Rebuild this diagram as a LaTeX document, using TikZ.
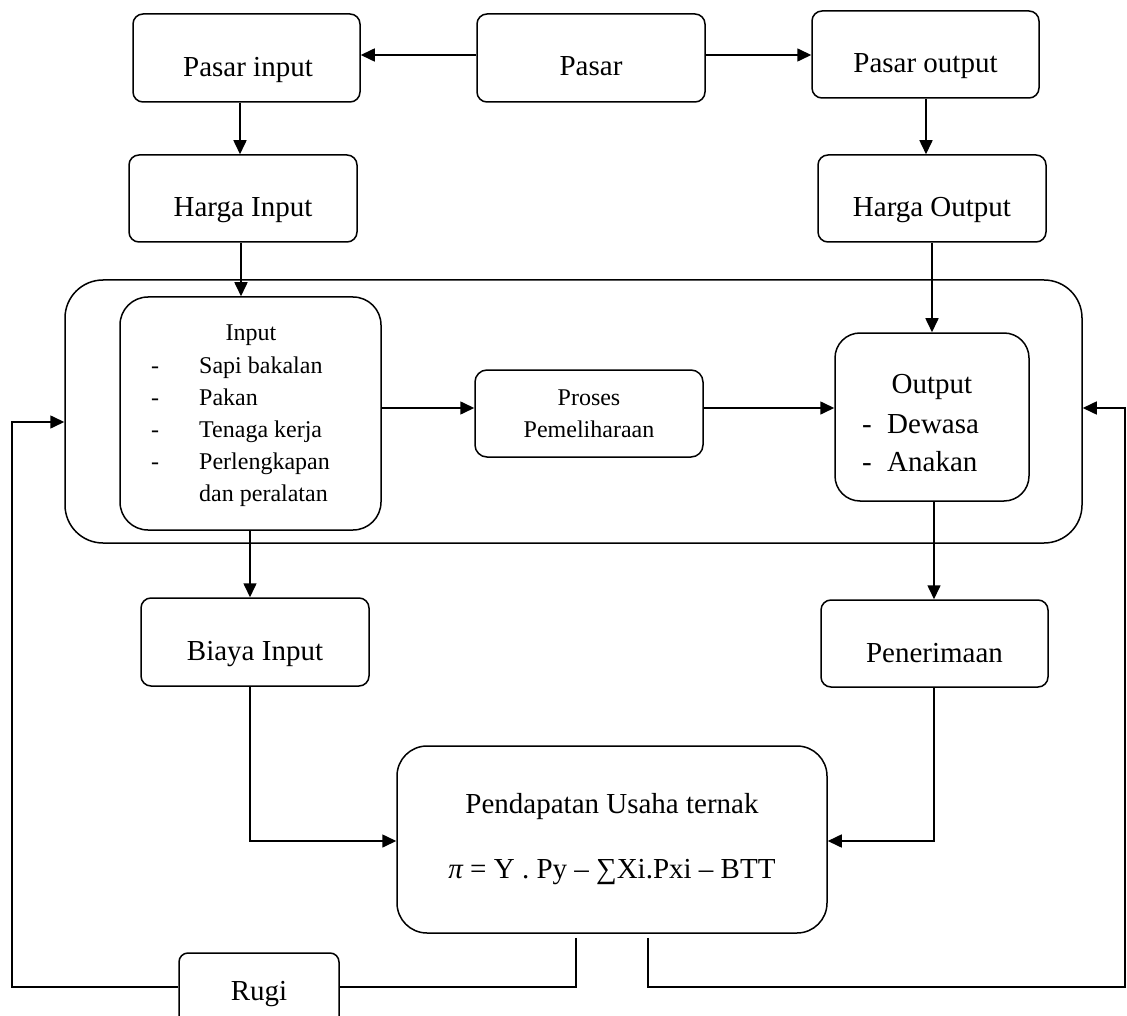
\documentclass[tikz,border=0pt]{standalone}
\usepackage{fontspec}
\setmainfont{Liberation Serif}
\usetikzlibrary{arrows.meta,calc}
\begin{document}
\begin{tikzpicture}[x=1pt,y=-1pt,
  box/.style={draw,line width=1.5pt,rounded corners=10pt,inner sep=0pt},
  conn/.style={line width=1.6pt},
  arr/.style={conn,-{Triangle[length=14pt,width=13pt]}},
  big/.style={font=\fontsize{29}{35}\selectfont,inner sep=0pt,anchor=base},
  small/.style={font=\fontsize{24}{29}\selectfont,inner sep=0pt,anchor=base},
]
\useasboundingbox (0,0) rectangle (1127,1016);
\clip (0,0) rectangle (1127,1016);

% boxes
\node[box,minimum width=227pt,minimum height=88pt] (pasarin) at (246.5,58) {};
\node[box,minimum width=228pt,minimum height=88pt] (pasar) at (591,58) {};
\node[box,minimum width=227pt,minimum height=87pt] (pasarout) at (925.5,54.5) {};
\node[box,minimum width=228pt,minimum height=87pt] (hargain) at (243,198.5) {};
\node[box,minimum width=228pt,minimum height=87pt] (hargaout) at (932,198.5) {};
\node[box,rounded corners=38pt,minimum width=1017pt,minimum height=263pt] (outer) at (573.5,411.5) {};
\node[box,rounded corners=28pt,minimum width=261pt,minimum height=233pt] (inputbox) at (250.5,413.5) {};
\node[box,rounded corners=12pt,minimum width=228pt,minimum height=87pt] (proses) at (589,413.5) {};
\node[box,rounded corners=25pt,minimum width=194pt,minimum height=168pt] (outputbox) at (932,417) {};
\node[box,minimum width=228pt,minimum height=88pt] (biaya) at (255,642) {};
\node[box,minimum width=227pt,minimum height=87pt] (pener) at (934.5,643.5) {};
\node[box,rounded corners=30pt,minimum width=430pt,minimum height=187pt] (pend) at (612,839.5) {};
\node[box,rounded corners=9pt,minimum width=160pt,minimum height=77pt] (rugi) at (259,991.5) {};

% texts
\node[big] (tPasarin) at (248,77) {Pasar input};
\node[big] (tPasar) at (591,76) {Pasar};
\node[big] (tPasarout) at (925.5,73) {Pasar output};
\node[big] (tHargain) at (243,217) {Harga Input};
\node[big] (tHargaout) at (932,217) {Harga Output};
\node[small] (tInput) at (251,341) {Input};
\node[small] (dA) at (155,373) {-};
\node[small] (dB) at (155,405) {-};
\node[small] (dC) at (155,437) {-};
\node[small] (dD) at (155,469) {-};
\node[small,anchor=base west] (iA) at (199,373) {Sapi bakalan};
\node[small,anchor=base west] (iB) at (199,405) {Pakan};
\node[small,anchor=base west] (iC) at (199,437) {Tenaga kerja};
\node[small,anchor=base west] (iD) at (199,469) {Perlengkapan};
\node[small,anchor=base west] (iE) at (199,501) {dan peralatan};
\node[small] (tProsesA) at (589,405) {Proses};
\node[small] (tProsesB) at (589,437) {Pemeliharaan};
\node[big] (tOutput) at (932,393) {Output};
\node[big] (dE) at (867,433) {-};
\node[big] (dF) at (867,471) {-};
\node[big,anchor=base west] (oA) at (887,433) {Dewasa};
\node[big,anchor=base west] (oB) at (887,471) {Anakan};
\node[big] (tBiaya) at (255,660) {Biaya Input};
\node[big] (tPener) at (934.5,662) {Penerimaan};
\node[big] (tPendA) at (612,813) {Pendapatan Usaha ternak};
\node[big] (tPendB) at (612,878) {{\itshape π} = Y . Py – ∑Xi.Pxi – BTT};
\node[big] (tRugi) at (259,1000) {Rugi};

% helper coordinates
\coordinate (yA) at (0,55);
\coordinate (yP) at (0,408);
\coordinate (yL) at (0,422);
\coordinate (yM) at (0,841);
\coordinate (yB) at (0,987);
\coordinate (xL) at (12,0);
\coordinate (xR) at (1125,0);
\coordinate (xa) at (240,0);
\coordinate (xb) at (926,0);
\coordinate (xc) at (241,0);
\coordinate (xd) at (932,0);
\coordinate (xe) at (250,0);
\coordinate (xf) at (934,0);
\coordinate (xg) at (576,0);
\coordinate (xh) at (648,0);

% connectors
\draw[arr] (pasar.west |- yA) -- (pasarin.east |- yA);
\draw[arr] (pasar.east |- yA) -- (pasarout.west |- yA);
\draw[arr] (xa |- pasarin.south) -- (xa |- hargain.north);
\draw[arr] (xb |- pasarout.south) -- (xb |- hargaout.north);
\draw[arr] (xc |- hargain.south) -- (xc |- inputbox.north);
\draw[arr] (xd |- hargaout.south) -- (xd |- outputbox.north);
\draw[arr] (inputbox.east |- yP) -- (proses.west |- yP);
\draw[arr] (proses.east |- yP) -- (outputbox.west |- yP);
\draw[arr] (xe |- inputbox.south) -- (xe |- biaya.north);
\draw[arr] (xf |- outputbox.south) -- (xf |- pener.north);
\draw[arr] (xe |- biaya.south) |- (pend.west |- yM);
\draw[arr] (xf |- pener.south) |- (pend.east |- yM);
\draw[conn] ($(xg |- pend.south)+(0,4)$) |- (rugi.east |- yB);
\draw[arr] (rugi.west |- yB) -| (xL |- yL) -- (outer.west |- yL);
\draw[arr] ($(xh |- pend.south)+(0,4)$) |- (xR |- yB) -- (xR |- yP) -- (outer.east |- yP);
\end{tikzpicture}
\end{document}
